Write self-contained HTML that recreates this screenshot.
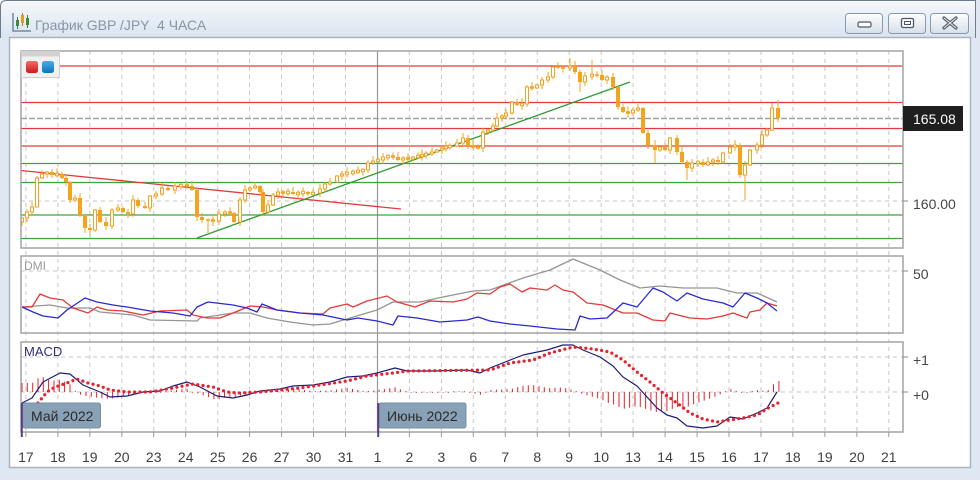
<!DOCTYPE html>
<html><head><meta charset="utf-8"><title>GBP/JPY</title>
<style>
html,body{margin:0;padding:0;background:#dfe8f2;}
body{width:980px;height:480px;overflow:hidden;}
svg{display:block;font-family:"Liberation Sans","DejaVu Sans",sans-serif;}
</style></head><body>
<svg id="s" width="980" height="480" viewBox="0 0 980 480" xmlns="http://www.w3.org/2000/svg">
<defs>
 <linearGradient id="tb" x1="0" y1="0" x2="0" y2="1"><stop offset="0" stop-color="#f5f8fb"/><stop offset="1" stop-color="#dae4ef"/></linearGradient>
 <linearGradient id="bt" x1="0" y1="0" x2="0" y2="1"><stop offset="0" stop-color="#fdfefe"/><stop offset="1" stop-color="#d6dfe9"/></linearGradient>
 <linearGradient id="rq" x1="0" y1="0" x2="0" y2="1"><stop offset="0" stop-color="#f56a6a"/><stop offset="1" stop-color="#c81a1a"/></linearGradient>
 <linearGradient id="bq" x1="0" y1="0" x2="0" y2="1"><stop offset="0" stop-color="#44b0ee"/><stop offset="1" stop-color="#1070b8"/></linearGradient>
 <clipPath id="cp"><rect x="21" y="51" width="882" height="197"/></clipPath>
 <clipPath id="cd"><rect x="21" y="256" width="882" height="77"/></clipPath>
 <clipPath id="cm"><rect x="21" y="342" width="882" height="90"/></clipPath>
</defs>

<!-- window frame -->
<rect width="980" height="480" fill="#dfe8f2"/>
<rect x="0" y="0" width="976" height="38" fill="url(#tb)"/>
<path d="M0.5 38V6.5Q0.5 0.5 6.5 0.5H975.5V38" fill="none" stroke="#6d7b8b"/>
<!-- title icon -->
<path d="M13 13V31H31" fill="none" stroke="#5b7896" stroke-width="1.3"/>
<line x1="17.5" y1="17" x2="17.5" y2="29" stroke="#3d7a3d"/>
<rect x="16" y="20" width="3" height="6" fill="#3d8a3d"/>
<line x1="22.5" y1="13" x2="22.5" y2="26" stroke="#c07a10"/>
<rect x="21" y="15" width="3" height="8" fill="#e89a20"/>
<line x1="27.5" y1="15" x2="27.5" y2="28" stroke="#3d7a3d"/>
<rect x="26" y="18" width="3" height="7" fill="#3d8a3d"/>
<text x="35" y="30" font-size="14" fill="#8795a5">График GBP /JPY &#160;4 ЧАСА</text>
<!-- buttons -->
<rect x="845.5" y="13.5" width="37" height="20" rx="3" fill="url(#bt)" stroke="#8a9aae"/>
<rect x="858" y="22" width="13" height="5" rx="1.5" fill="#fff" stroke="#4a5868" stroke-width="1.2"/>
<rect x="888.5" y="13.5" width="37" height="20" rx="3" fill="url(#bt)" stroke="#8a9aae"/>
<rect x="901.5" y="18.5" width="12" height="9" rx="1.5" fill="#fff" stroke="#4a5868" stroke-width="1.3"/>
<rect x="904.5" y="21.5" width="6" height="3" fill="none" stroke="#4a5868" stroke-width="1"/>
<rect x="930.5" y="13.5" width="38" height="20" rx="3" fill="url(#bt)" stroke="#8a9aae"/>
<path d="M944 18L956 28M956 18L944 28" stroke="#4a5868" stroke-width="3.2" stroke-linecap="round"/>
<path d="M944 18L956 28M956 18L944 28" stroke="#eef2f6" stroke-width="1" stroke-linecap="round"/>

<!-- content area -->
<rect x="9.5" y="37.5" width="961" height="430" fill="#fff" stroke="#a9b4c0" stroke-width="1.5"/>

<!-- vertical dashed grid -->
<path d="M25.9 51V432M57.9 51V432M89.8 51V432M121.8 51V432M153.7 51V432M185.7 51V432M217.7 51V432M249.6 51V432M281.6 51V432M313.5 51V432M345.5 51V432M409.4 51V432M441.4 51V432M473.3 51V432M505.3 51V432M537.3 51V432M569.2 51V432M601.2 51V432M633.1 51V432M665.1 51V432M697.1 51V432M729 51V432M761 51V432M792.9 51V432M824.9 51V432M856.9 51V432M888.8 51V432" stroke="#c6c6c6" stroke-width="1" stroke-dasharray="4 4" fill="none"/>
<!-- horizontal dashed grid -->
<path d="M21 201H903M21 271H903M21 357H903M21 392H903" stroke="#c6c6c6" stroke-width="1" stroke-dasharray="4 4" fill="none"/>
<!-- June separator -->
<line x1="377.5" y1="51" x2="377.5" y2="432" stroke="#9a9a9a" stroke-width="1.2"/>

<!-- price panel -->
<g clip-path="url(#cp)">
 <path d="M21 66H903M21 102.5H903M21 128.5H903M21 146H903" stroke="#e23a3a" stroke-width="1.3" fill="none"/>
 <path d="M21 163.5H903M21 182.5H903M21 215H903M21 238.5H903" stroke="#3da33d" stroke-width="1.3" fill="none"/>
 <line x1="21" y1="118.5" x2="903" y2="118.5" stroke="#a2a2a2" stroke-width="1.6" stroke-dasharray="6 2"/>
 <line x1="21" y1="170.5" x2="401" y2="209" stroke="#e03c3c" stroke-width="1.3"/>
 <line x1="197" y1="238" x2="630" y2="82" stroke="#2f9a2f" stroke-width="1.3"/>
 <g id="cdl"></g>
</g>

<!-- DMI panel -->
<g clip-path="url(#cd)" fill="none" stroke-width="1.3" stroke-linejoin="round">
 <polyline stroke="#959595" points="22,307 50,305 67,308 90,308 100,312 133,315 150,320 197,321 200,318 233,313 250,313 267,318 290,322 313,325 330,324 350,318 377,310 393,302 420,302 443,297 473,291 490,290 523,278 550,270 573,259 600,270 620,280 640,288 660,286 683,288 717,288 737,293 757,293 777,302"/>
 <polyline stroke="#e23a3a" points="22,307 32,307 40,294 50,298 63,300 73,308 88,313 97,307 107,310 123,311 143,315 160,311 187,310 193,315 207,318 220,318 233,313 250,306 263,307 277,310 300,313 323,314 330,308 347,304 353,307 367,301 387,296 397,302 415,307 430,301 453,302 467,299 477,293 490,294 500,287 510,284 522,292 530,288 547,290 555,285 563,290 573,292 587,303 603,305 623,313 637,313 653,320 665,321 670,313 690,318 707,319 723,316 733,313 747,318 750,312 760,310 767,303 777,306"/>
 <polyline stroke="#2a2ad2" points="22,307 33,312 43,316 58,318 67,310 85,298 97,302 113,305 127,307 150,311 173,313 190,316 197,307 208,302 233,305 247,308 257,312 262,304 277,310 300,313 323,315 347,320 358,318 377,321 393,325 398,316 417,318 440,322 467,320 478,317 490,321 510,324 530,326 557,329 575,330 580,316 590,319 607,318 623,303 637,307 653,288 663,292 677,301 687,293 703,299 723,303 733,307 745,293 757,298 767,303 777,311"/>
</g>

<!-- MACD panel -->
<g clip-path="url(#cm)">
 <g id="hist" stroke="#e8202a" stroke-width="1"></g>
 <polyline id="macd" fill="none" stroke="#1e1e78" stroke-width="1.2" stroke-linejoin="round" points="22,403 32,398 43,382 60,373 70,374 83,385 100,392 110,397 127,396 143,392 160,391 173,386 187,382 200,387 217,396 233,398 247,395 260,391 280,389 293,386 313,385 330,382 347,377 363,376 377,373 395,368 407,371 433,371 467,370 480,373 490,368 523,355 547,350 563,345 573,345 583,350 600,357 613,366 623,377 637,386 647,397 657,408 667,415 677,418 687,426 703,428 717,426 730,417 743,419 757,413 767,408 777,392"/>
 <polyline id="sig" fill="none" stroke="#e8202a" stroke-width="3.2" stroke-linecap="round" stroke-dasharray="0 5.33" points="38,403 47,392 55,387 67,383 77,379 88,383 100,386 110,390 127,392 150,392 173,388 193,384 213,387 227,392 240,393 260,392 280,390 300,388 320,385 347,381 367,376 393,373 407,371 490,370 510,363 533,360 550,353 573,347 593,349 610,352 623,360 637,372 650,382 663,393 677,403 690,413 703,419 717,422 730,420 743,418 757,415 770,407 778,403"/>
</g>

<!-- panel borders -->
<g fill="none" stroke="#a3a3a3" stroke-width="1.5">
 <rect x="21" y="51" width="882" height="197"/>
 <rect x="21" y="256" width="882" height="77"/>
 <rect x="21" y="342" width="882" height="90"/>
</g>

<!-- indicator box top-left -->
<rect x="21.5" y="51.5" width="38" height="26" fill="#f1f1f1" stroke="#cfcfcf"/>
<rect x="21.5" y="51.5" width="38" height="5" fill="#d2d2d2"/>
<rect x="26" y="61" width="12" height="12" rx="2.5" fill="url(#rq)"/>
<rect x="42" y="61" width="12" height="12" rx="2.5" fill="url(#bq)"/>

<!-- right axis -->
<path d="M903 201H908M903 271H908M903 357H908M903 392H908" stroke="#8a8a8a" stroke-width="1"/>
<rect x="903" y="106" width="60" height="25" fill="#1f1f1f"/>
<text x="913" y="124" font-size="14" fill="#ffffff">165.08</text>
<text x="913" y="209" font-size="14" fill="#454545">160.00</text>
<text x="913" y="279" font-size="14" fill="#454545">50</text>
<text x="913" y="365" font-size="14" fill="#454545">+1</text>
<text x="913" y="400" font-size="14" fill="#454545">+0</text>

<!-- panel labels -->
<text x="24" y="270" font-size="12" fill="#9a9a9a">DMI</text>
<text x="24" y="356" font-size="13" fill="#2e2e7e">MACD</text>

<!-- month markers -->
<rect x="22.5" y="403" width="78" height="25" rx="2" fill="#88a1b6" stroke="#7890a5"/>
<text x="31" y="421" font-size="14" fill="#2b2b2b">Май 2022</text>
<rect x="379" y="403" width="87" height="25" rx="2" fill="#88a1b6" stroke="#7890a5"/>
<text x="387" y="421" font-size="14" fill="#2b2b2b">Июнь 2022</text>
<line x1="21.8" y1="403" x2="21.8" y2="437" stroke="#5b3f86" stroke-width="2"/>
<line x1="378.2" y1="403" x2="378.2" y2="437" stroke="#5b3f86" stroke-width="2"/>

<!-- x ticks -->
<path d="M25.9 432V437M57.9 432V437M89.8 432V437M121.8 432V437M153.7 432V437M185.7 432V437M217.7 432V437M249.6 432V437M281.6 432V437M313.5 432V437M345.5 432V437M409.4 432V437M441.4 432V437M473.3 432V437M505.3 432V437M537.3 432V437M569.2 432V437M601.2 432V437M633.1 432V437M665.1 432V437M697.1 432V437M729 432V437M761 432V437M792.9 432V437M824.9 432V437M856.9 432V437M888.8 432V437" stroke="#9a9a9a" stroke-width="1"/>
<g font-size="14" fill="#404040" text-anchor="middle">
<text x="25.9" y="462">17</text><text x="57.9" y="462">18</text><text x="89.8" y="462">19</text><text x="121.8" y="462">20</text><text x="153.7" y="462">23</text><text x="185.7" y="462">24</text><text x="217.7" y="462">25</text><text x="249.6" y="462">26</text><text x="281.6" y="462">27</text><text x="313.5" y="462">30</text><text x="345.5" y="462">31</text><text x="377.5" y="462">1</text><text x="409.4" y="462">2</text><text x="441.4" y="462">3</text><text x="473.3" y="462">6</text><text x="505.3" y="462">7</text><text x="537.3" y="462">8</text><text x="569.2" y="462">9</text><text x="601.2" y="462">10</text><text x="633.1" y="462">13</text><text x="665.1" y="462">14</text><text x="697.1" y="462">15</text><text x="729" y="462">16</text><text x="761" y="462">17</text><text x="792.9" y="462">18</text><text x="824.9" y="462">19</text><text x="856.9" y="462">20</text><text x="888.8" y="462">21</text>
</g>
</svg>
<script>
(function(){
var NS='http://www.w3.org/2000/svg';
function mk(tag,a,p){var e=document.createElementNS(NS,tag);for(var k in a)e.setAttribute(k,a[k]);p.appendChild(e);return e;}
var C=[[22,218],[27,212],[32,207],[37,178],[42,174],[47,172],[52,175],[57,174],[62,178],[66,182],[70,200],[75,198],[80,216],[85,228],[90,230],[95,210],[100,222],[106,226],[112,210],[118,208],[123,212],[128,214],[133,200],[138,206],[145,208],[150,196],[156,194],[162,188],[168,190],[175,186],[181,185],[187,186],[192,190],[197,217],[202,220],[208,220],[213,221],[219,214],[225,212],[230,213],[234,222],[240,200],[245,190],[250,188],[255,186],[260,192],[263,212],[268,205],[273,195],[278,192],[283,193],[288,192],[293,194],[298,193],[303,192],[308,194],[313,193],[320,189],[325,184],[330,182],[337,176],[342,174],[347,173],[353,172],[358,171],[363,170],[368,163],[373,161],[378,160],[383,157],[388,156],[393,157],[398,160],[403,158],[408,159],[413,157],[418,156],[422,155],[426,154],[432,152],[437,150],[442,148],[446,147],[450,146],[457,143],[463,138],[468,146],[473,147],[478,148],[483,132],[488,130],[493,126],[497,118],[502,116],[506,113],[512,102],[517,105],[522,104],[527,87],[532,88],[537,85],[542,80],[548,77],[553,67],[558,67],[563,68],[570,66],[575,72],[580,82],[585,76],[592,75],[597,75],[602,80],[607,77],[613,87],[618,107],[623,112],[628,113],[633,110],[638,108],[643,133],[648,145],[655,150],[660,147],[665,150],[670,138],[677,152],[682,162],[687,168],[692,163],[698,162],[703,165],[708,162],[713,160],[718,162],[723,153],[730,147],[735,145],[740,175],[745,165],[750,150],[757,145],[762,135],[767,130],[772,108],[778,118]];
var W={22:[null,226],37:[null,203],85:[null,233],90:[null,236],208:[null,233],213:[null,226],263:[null,216],463:[133,null],570:[58,null],580:[null,92],592:[60,null],618:[null,110],655:[140,163],687:[null,180],745:[null,200],772:[103,null],778:[100,null]};
var OR='#f5a21c',prev=222,g=document.getElementById('cdl');
for(var i=0;i<C.length;i++){
 var x=C[i][0],cl=C[i][1],op=prev;prev=cl;
 var top=Math.min(op,cl),bot=Math.max(op,cl);
 if(bot-top<1.5){top-=0.75;bot+=0.75;}
 var hi=top-(1+(i*7)%5),lo=bot+(1+(i*3)%4);
 var o=W[x];if(o){if(o[0]!=null)hi=o[0];if(o[1]!=null)lo=o[1];}
 mk('line',{x1:x,y1:hi,x2:x,y2:lo,stroke:OR,'stroke-width':1},g);
 if(cl<op) mk('rect',{x:x-1.5,y:top,width:3,height:bot-top,fill:'#fff',stroke:OR,'stroke-width':1},g);
 else mk('rect',{x:x-2,y:top,width:4,height:bot-top,fill:OR},g);
}
function pts(id){return document.getElementById(id).getAttribute('points').trim().split(/\s+/).map(function(p){return p.split(',').map(Number);});}
function ip(P,x){if(x<=P[0][0])return P[0][1];for(var j=1;j<P.length;j++){if(x<=P[j][0]){var a=P[j-1],b=P[j];return a[1]+(b[1]-a[1])*(x-a[0])/(b[0]-a[0]);}}return P[P.length-1][1];}
var M=pts('macd'),G=pts('sig');G.unshift([30,408]);G.unshift([22,412]);
var h=document.getElementById('hist');
for(var xx=22;xx<=779;xx+=5.33){
 var d=ip(G,xx)-ip(M,xx);
 if(Math.abs(d)<0.8)d=(d<0?-0.8:0.8);
 mk('line',{x1:xx.toFixed(1),y1:392,x2:xx.toFixed(1),y2:(392-d).toFixed(1)},h);
}
})();
</script>
</body></html>
